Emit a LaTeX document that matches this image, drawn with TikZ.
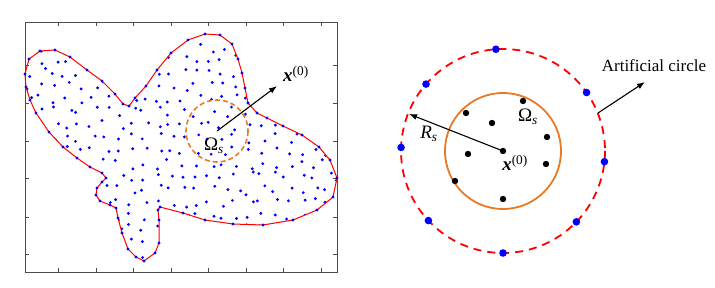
\documentclass[tikz,border=0pt]{standalone}
\usepackage{fontspec}
\setmainfont{Liberation Serif}
\usetikzlibrary{arrows.meta}
\definecolor{ora}{RGB}{232,122,38}
\newcommand\bndpts{(29,59),(40,51),(55,50),(70,57),(87,70),(102,81),(115,94),(123,104),
(129,106),(135,98),(146,86),(157,70),(171,53),(188,40),(205,34),(220,35),(232,44),(238,59),
(242,73),(245,88),(248,103),(257,113),(267,118),(283,126),(302,135),(319,147),(330,160),
(337,178),(333,197),(317,210),(293,220),(263,225),(233,224),(205,220),(183,213),(160,207),
(158,210),(159,220),(159,243),(155,253),(144,261),(136,257),(128,249),(122,233),(118,218),
(116,208),(110,205),(100,201),(96,195),(97,188),(102,182),(106,178),(102,173),(90,167),
(77,158),(63,147),(49,132),(36,113),(30,100),(26,87),(25,74)}
\begin{document}
\begin{tikzpicture}[x=1pt,y=-1pt,
arr/.style={-{Latex[length=8pt,width=6pt]},line width=1.1pt},
bline/.style={draw=red,line width=1pt,line join=round},
frm/.style={draw=gray!60!black,line width=.6pt},
odash/.style={draw=ora,dash pattern=on 5pt off 3pt,line width=1.6pt},
rdash/.style={draw=red,dash pattern=on 8pt off 6pt,line width=1.8pt},
lab/.style={inner sep=1pt,font=\fontsize{19}{19}\selectfont}]
\useasboundingbox (0,0) rectangle (715,287);
\draw[frm] (25,22) rectangle (337,272);
\foreach \x in {58,96,133,171,208,246,283,321}
  \draw[frm] (\x,22) -- ++(0,4) (\x,272) -- ++(0,-4);
\foreach \y in {65,103,141,178,217,254}
  \draw[frm] (25,\y) -- ++(4,0) (337,\y) -- ++(-4,0);
\begin{scope}
\clip (25,74) \foreach \p in \bndpts {-- \p} -- cycle;
\pgfmathsetseed{11}
\foreach \i in {0,...,24}
  \foreach \j in {0,...,18}
    \fill[blue] ({28+13*\i+5*rand},{34+13*\j+5*rand}) circle (1.6);
\end{scope}
\draw[bline] (25,74) \foreach \p in \bndpts {-- \p} -- cycle;
\foreach \p in \bndpts
  \fill[blue] \p circle (1.6);
\coordinate (c0) at (217,131);
\coordinate (c1) at (277,86);
\draw[odash] (c0) circle (31);
\draw[arr] (c0) -- (c1);
\node[lab] (xl) at (296,74) {\textbf{\textit{x}}\textsuperscript{(0)}};
\node[lab] (oml) at (214,146) {Ω\textsubscript{\textit{s}}};
\coordinate (ctr) at (503,151);
\draw[rdash] (ctr) circle (102);
\draw[ora,line width=1.8pt] (ctr) circle (58);
\foreach \a in {-94,-139,-35,-178,6,-223,44,-270}
  \fill[blue] (ctr) ++(\a:102) circle (3.8);
\foreach \p in {(523,101),(466,113),(492,123),(547,137),(468,154),(503,151),(546,164),(455,181),(503,199)}
  \fill \p circle (3.2);
\coordinate (rs) at (409,114);
\draw[arr] (ctr) -- (rs);
\node[lab] (rsl) at (429,134) {\textit{R}\textsubscript{\textit{s}}};
\node[lab] (omr) at (528,117) {Ω\textsubscript{\textit{s}}};
\node[lab] (xr) at (515,163) {\textbf{\textit{x}}\textsuperscript{(0)}};
\coordinate (ac0) at (598,113);
\coordinate (ac1) at (645,82);
\draw[arr] (ac0) -- (ac1);
\node[font=\fontsize{17}{17}\selectfont] (acl) at (654,66) {Artificial circle};
\end{tikzpicture}
\end{document}
